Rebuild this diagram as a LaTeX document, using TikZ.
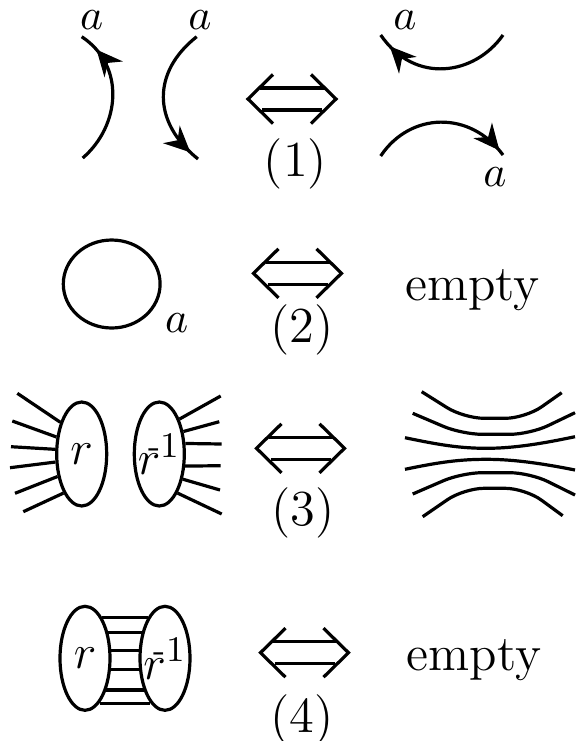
\documentclass[tikz,border=0pt]{standalone}
\usepackage{amsmath}
\usetikzlibrary{shapes.geometric,arrows.meta,decorations.markings}

\begin{document}
\begin{tikzpicture}[
x=0.25pt,y=-0.25pt,
line width=0.8pt,
every node/.style={inner sep=0pt,font=\fontsize{11}{13}\selectfont},
blob/.style={ellipse,draw,minimum width=12.5pt,minimum height=26pt},
numlabel/.style={font=\fontsize{12.6}{15}\selectfont},
strand/.style={postaction={decorate},
  decoration={markings,mark=at position #1 with {\arrow{Stealth[length=6.5pt,width=6pt]}}}},
equiv/.pic={
  \draw (-19,-24.5) -- (-44,0) -- (-19,24.5);
  \draw (19,-24.5) -- (44,0) -- (19,24.5);
  \draw (-32,-11) -- (33,-11) (-30,11) -- (30,11);
}
]
\useasboundingbox (0,0) rectangle (576,741);

% move (1)
\draw[strand=0.86] (82.7,158) .. controls (120,126) and (126,66) .. (81.7,36.7);
\draw[strand=0.93] (196.7,36.7) .. controls (152,72) and (152,122) .. (198,159);
\node (a1) at (91.7,20) {$a$};
\node (a2) at (200,20) {$a$};
\draw[strand=0.9] (503,35) .. controls (475,75) and (415,85) .. (380.7,35);
\draw[strand=0.96] (380.7,156) .. controls (410,112) and (470,110) .. (503,155);
\node (a3) at (405,20) {$a$};
\node (a4) at (495,176.7) {$a$};
\pic at (292,99) {equiv};
\node[numlabel] (n1) at (295.5,164) {(1)};

% move (2)
\node[ellipse,draw,minimum width=24.2pt,minimum height=22pt] (loop) at (111.7,284) {};
\node (a5) at (176.7,323.3) {$a$};
\pic at (297.5,273.3) {equiv};
\node[numlabel] (n2) at (301.7,330) {(2)};
\node[numlabel,anchor=base] (e2) at (472.5,300) {empty};

% move (3)
\node[blob] (r3) at (81.7,454) {};
\node[blob] (ri3) at (159.3,454) {};
\node[numlabel] at (r3) {$r$};
\node[numlabel] at (ri3) {$r^{\kern-3pt\text{-}\mbox{\small 1}}$};
\draw (r3.124) -- (17.3,393.3);
\draw (r3.146) -- (12.3,421);
\draw (r3.170) -- (11,446.7);
\draw (r3.197) -- (10,467.7);
\draw (r3.223) -- (15,493.3);
\draw (r3.245) -- (23.3,511.7);
\draw (ri3.60) -- (220.7,396);
\draw (ri3.43) -- (219.3,421.7);
\draw (ri3.22) -- (221.7,444);
\draw (ri3.-25) -- (220.7,465.7);
\draw (ri3.-47) -- (220,490);
\draw (ri3.-65) -- (221.7,514);
\pic at (300.5,448.3) {equiv};
\node[numlabel] (n3) at (303.3,513.3) {(3)};
\draw[rounded corners=5pt] (421.7,391.7) -- (464,418.3) -- (525.3,418.3) -- (561.7,392.7);
\draw[rounded corners=5pt] (412.7,413.3) -- (462,434.3) -- (530,434.3) -- (575,412.7);
\draw (405,437.7) .. controls (440,445) and (460,448.3) .. (486.7,448.3) .. controls (515,448.3) and (545,443) .. (575,436.7);
\draw (405,469.3) .. controls (440,462) and (460,459.3) .. (486.7,459.3) .. controls (515,459.3) and (545,464) .. (575,470);
\draw[rounded corners=5pt] (412.7,494) -- (462,472.7) -- (530,472.7) -- (575,495);
\draw[rounded corners=5pt] (422.7,516.7) -- (464,488.3) -- (525.3,488.3) -- (562.7,515.7);

% move (4)
\node[blob] (r4) at (85,658.3) {};
\node[blob] (ri4) at (165,658.3) {};
\node[numlabel] at (r4) {$r$};
\node[numlabel] at (ri4) {$r^{\kern-3pt\text{-}\mbox{\small 1}}$};
\draw (r4.67) -- (ri4.113);
\draw (r4.48) -- (ri4.132);
\draw (r4.17) -- (ri4.163);
\draw (r4.-24) -- (ri4.-156);
\draw (r4.-56) -- (ri4.-124);
\draw (r4.-72) -- (ri4.-108);
\pic at (304.5,652.7) {equiv};
\node[numlabel] (n4) at (301.7,720) {(4)};
\node[numlabel,anchor=base] (e4) at (474,670) {empty};
\end{tikzpicture}
\end{document}
